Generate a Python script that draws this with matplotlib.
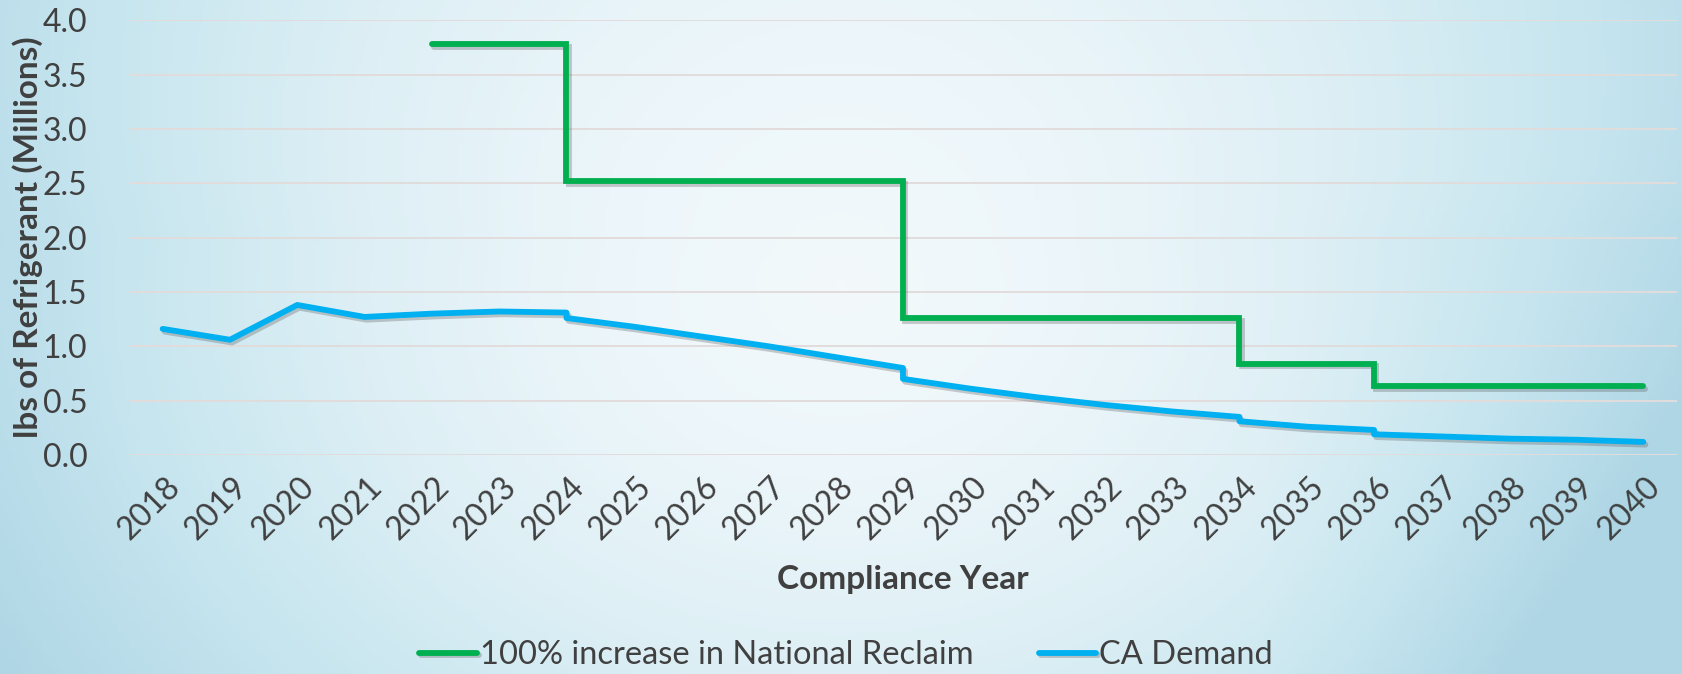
import numpy as np
import matplotlib
matplotlib.use("Agg")
import matplotlib.pyplot as plt
import matplotlib.patheffects as pe
import matplotlib.transforms as mtransforms
from matplotlib.colors import LinearSegmentedColormap

plt.rcParams['font.family'] = ['Lato', 'DejaVu Sans']

# data (millions of lbs)
years = list(range(2018, 2041))

reclaim_years = [2022, 2024, 2024, 2029, 2029, 2034, 2034, 2036, 2036, 2040]
reclaim = [3.78, 3.78, 2.52, 2.52, 1.26, 1.26, 0.84, 0.84, 0.63, 0.63]

demand_years = [2018, 2019, 2020, 2021, 2022, 2023, 2024, 2024, 2025, 2026,
                2027, 2028, 2029, 2029, 2030, 2031, 2032, 2033, 2034, 2034,
                2035, 2036, 2036, 2037, 2038, 2039, 2040]
demand = [1.16, 1.06, 1.38, 1.27, 1.30, 1.32, 1.31, 1.26, 1.18, 1.09,
          1.00, 0.90, 0.80, 0.70, 0.61, 0.53, 0.46, 0.40, 0.35, 0.31,
          0.26, 0.23, 0.19, 0.17, 0.15, 0.14, 0.12]

txt = '#404040'

fig = plt.figure(figsize=(16.82, 6.74), dpi=100)

# soft blue background, lighter toward the middle
bg = fig.add_axes([0, 0, 1, 1], zorder=-10)
gx, gy = np.meshgrid(np.linspace(-1, 1, 400), np.linspace(-1, 1, 160))
r = np.sqrt((gx / 1.1) ** 2 + ((gy - 0.15) / 2.2) ** 2)
r = r + 0.35 * np.clip(gx - 0.5, 0, None) * np.clip(-gy + 0.5, 0, None)
r = r - 0.15 * np.clip(gy - 0.3, 0, None)
cmap = LinearSegmentedColormap.from_list('bg', ['#f3f9fb', '#ecf6fa', '#ddeff5', '#c6e5ef', '#afd6e5'])
bg.imshow(np.clip(r, 0, 1.05), cmap=cmap, aspect='auto', extent=[0, 1, 0, 1], origin='lower',
          vmin=0, vmax=1.05)
bg.axis('off')

ax = fig.add_axes([0.0767, 0.325, 0.9203, 0.645])
ax.set_facecolor('none')

shadow = [pe.SimpleLineShadow(offset=(1.5, -2), shadow_color='#555555', alpha=0.3), pe.Normal()]
ax.plot(reclaim_years, reclaim, color='#00b050', lw=4.2, solid_capstyle='round',
        solid_joinstyle='miter', label='100% increase in National Reclaim', path_effects=shadow)
ax.plot(demand_years, demand, color='#00b0f0', lw=4.2, solid_capstyle='round',
        solid_joinstyle='round', label='CA Demand', path_effects=shadow)

ax.set_xlim(2017.5, 2040.5)
ax.set_ylim(0, 4.0)
ax.set_yticks(np.arange(0, 4.01, 0.5))
ax.set_yticklabels([f'{v:.1f}' for v in np.arange(0, 4.01, 0.5)])
ax.set_xticks(years)
ax.set_xticklabels([str(y) for y in years], rotation=45, ha='right', va='top',
                   rotation_mode='anchor')
ax.tick_params(axis='both', length=0, labelsize=23, labelcolor=txt)
ax.tick_params(axis='x', pad=12)
ax.tick_params(axis='y', pad=30)
shift = mtransforms.ScaledTranslation(2 / 100, 0, fig.dpi_scale_trans)
for lbl in ax.get_xticklabels():
    lbl.set_transform(lbl.get_transform() + shift)
ax.grid(axis='y', color='#e2dcdc', lw=1.4)
ax.set_axisbelow(True)
for s in ax.spines.values():
    s.set_visible(False)

ax.set_ylabel('lbs of Refrigerant (Millions)', fontsize=24, fontweight='bold', color=txt, labelpad=0)
ax.set_xlabel('Compliance Year', fontsize=24, fontweight='bold', color=txt, labelpad=14)

fig.legend(loc='center', bbox_to_anchor=(0.503, 0.028), ncol=2, frameon=False,
           fontsize=23.5, labelcolor=txt, handlelength=1.75, handletextpad=0.1,
           columnspacing=2.0)

fig.savefig('out.png', dpi=100)
